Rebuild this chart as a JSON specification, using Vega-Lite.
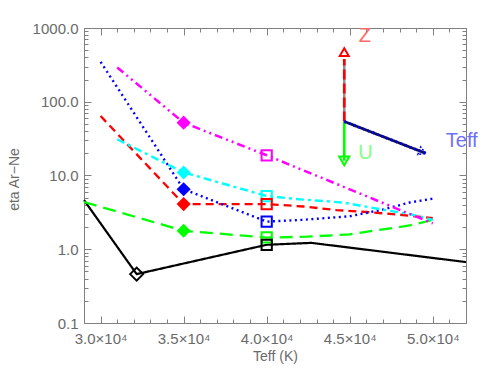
{
  "$schema": "https://vega.github.io/schema/vega-lite/v6.json",
  "width": 382,
  "height": 295,
  "autosize": {"type": "none"},
  "padding": {"left": 84, "top": 28, "right": 25, "bottom": 54},
  "background": "white",
  "datasets": {
    "lines": [
      {"s": "black", "x": 29000, "y": 4.64},
      {"s": "black", "x": 32170, "y": 0.46},
      {"s": "black", "x": 40000, "y": 1.15},
      {"s": "black", "x": 42700, "y": 1.22},
      {"s": "black", "x": 52000, "y": 0.67},
      {"s": "green", "x": 29000, "y": 4.37},
      {"s": "green", "x": 35000, "y": 1.78},
      {"s": "green", "x": 40000, "y": 1.44},
      {"s": "green", "x": 42400, "y": 1.48},
      {"s": "green", "x": 45000, "y": 1.59},
      {"s": "green", "x": 47000, "y": 1.86},
      {"s": "green", "x": 48600, "y": 2.1},
      {"s": "green", "x": 50000, "y": 2.5},
      {"s": "red", "x": 30000, "y": 64},
      {"s": "red", "x": 35000, "y": 4.1},
      {"s": "red", "x": 40000, "y": 4.1},
      {"s": "red", "x": 42200, "y": 3.8},
      {"s": "red", "x": 44200, "y": 3.4},
      {"s": "red", "x": 46000, "y": 3.2},
      {"s": "red", "x": 47800, "y": 2.97},
      {"s": "red", "x": 50000, "y": 2.65},
      {"s": "blue", "x": 30000, "y": 348},
      {"s": "blue", "x": 35000, "y": 6.5},
      {"s": "blue", "x": 40000, "y": 2.37},
      {"s": "blue", "x": 42100, "y": 2.5},
      {"s": "blue", "x": 45000, "y": 2.8},
      {"s": "blue", "x": 47000, "y": 3.45},
      {"s": "blue", "x": 48600, "y": 4.3},
      {"s": "blue", "x": 50000, "y": 4.85},
      {"s": "cyan", "x": 31000, "y": 31},
      {"s": "cyan", "x": 35000, "y": 11},
      {"s": "cyan", "x": 40000, "y": 5.27},
      {"s": "cyan", "x": 42000, "y": 4.75},
      {"s": "cyan", "x": 44600, "y": 4.3},
      {"s": "cyan", "x": 46800, "y": 3.5},
      {"s": "cyan", "x": 48600, "y": 3.0},
      {"s": "cyan", "x": 50000, "y": 2.5},
      {"s": "magenta", "x": 31000, "y": 292},
      {"s": "magenta", "x": 35000, "y": 52},
      {"s": "magenta", "x": 40000, "y": 18.8},
      {"s": "magenta", "x": 50000, "y": 2.24},
      {"s": "zcore", "x": 44670, "y": 54},
      {"s": "zcore", "x": 44670, "y": 380},
      {"s": "zdash", "x": 44670, "y": 54},
      {"s": "zdash", "x": 44670, "y": 380},
      {"s": "u", "x": 44670, "y": 54},
      {"s": "u", "x": 44670, "y": 15.8},
      {"s": "tcore", "x": 44670, "y": 54},
      {"s": "tcore", "x": 49574, "y": 20},
      {"s": "tdot", "x": 44670, "y": 54},
      {"s": "tdot", "x": 49574, "y": 20}
    ],
    "marks": [
      {"s": "magenta", "x": 35000, "y": 52, "kind": "fd"},
      {"s": "cyan", "x": 35000, "y": 11, "kind": "fd"},
      {"s": "blue", "x": 35000, "y": 6.5, "kind": "fd"},
      {"s": "red", "x": 35000, "y": 4.1, "kind": "fd"},
      {"s": "green", "x": 35000, "y": 1.78, "kind": "fd"},
      {"s": "magenta", "x": 40000, "y": 18.8, "kind": "os"},
      {"s": "cyan", "x": 40000, "y": 5.27, "kind": "os"},
      {"s": "red", "x": 40000, "y": 4.1, "kind": "os"},
      {"s": "blue", "x": 40000, "y": 2.37, "kind": "os"},
      {"s": "green", "x": 40000, "y": 1.45, "kind": "os"},
      {"s": "black", "x": 40000, "y": 1.15, "kind": "os"},
      {"s": "black", "x": 32170, "y": 0.46, "kind": "od"}
    ],
    "heads": [
      {"s": "Z", "x": 44670, "y": 470},
      {"s": "U", "x": 44670, "y": 15.8},
      {"s": "T", "x": 49381, "y": 20.8}
    ],
    "labels": [
      {"t": "Z", "x": 45917, "y": 791},
      {"t": "U", "x": 45950, "y": 20.5},
      {"t": "Teff", "x": 51741, "y": 29.5}
    ]
  },
  "resolve": {
    "scale": {"x": "shared", "y": "shared"},
    "axis": {"x": "independent", "y": "independent"}
  },
  "layer": [
    {
      "data": {"name": "lines"},
      "mark": {"type": "line", "strokeCap": "butt"},
      "encoding": {
        "x": {
          "field": "x", "type": "quantitative",
          "scale": {"type": "linear", "domain": [29000, 52000], "nice": false, "zero": false},
          "axis": {
            "orient": "bottom",
            "values": [30000, 35000, 40000, 45000, 50000],
            "labelExpr": "format(datum.value/10000,'.1f') + '×10⁴'",
            "tickSize": -7,
            "labelPadding": 15,
            "labelFlush": false,
            "labelOverlap": false,
            "domain": true,
            "title": "Teff (K)",
            "titleX": 191,
            "titleY": 26,
            "titleBaseline": "top",
            "titleAlign": "center"
          }
        },
        "y": {
          "field": "y", "type": "quantitative",
          "scale": {"type": "log", "domain": [0.1, 1000], "nice": false},
          "axis": {
            "orient": "left",
            "values": [0.1, 1, 10, 100, 1000],
            "format": ".1f",
            "tickSize": -7,
            "labelPadding": 13,
            "labelFlush": false,
            "labelOverlap": false,
            "domain": true,
            "title": "eta  Ar−Ne",
            "titleX": -70,
            "titleY": 151,
            "titleAngle": -90,
            "titleBaseline": "middle",
            "titleAlign": "center"
          }
        },
        "color": {
          "field": "s", "type": "nominal", "legend": null,
          "scale": {
            "domain": ["black", "green", "red", "blue", "cyan", "magenta", "zcore", "zdash", "u", "tcore", "tdot"],
            "range": ["#000000", "#00ff00", "#ff0000", "#0000ff", "#00ffff", "#ff00ff", "#909090", "#ff0000", "#00ff00", "#101040", "#0000ff"]
          }
        },
        "strokeDash": {
          "field": "s", "type": "nominal", "legend": null,
          "scale": {
            "domain": ["black", "green", "red", "blue", "cyan", "magenta", "zcore", "zdash", "u", "tcore", "tdot"],
            "range": [[1, 0], [13, 7], [8, 5], [2, 3.5], [8, 4, 3, 4], [8, 4, 2, 4, 2, 4], [1, 0], [10, 4], [1, 0], [1, 0], [2, 3]]
          }
        },
        "strokeWidth": {
          "field": "s", "type": "ordinal", "legend": null,
          "scale": {
            "domain": ["black", "green", "red", "blue", "cyan", "magenta", "zcore", "zdash", "u", "tcore", "tdot"],
            "range": [2.2, 2.8, 2.8, 2.8, 2.8, 2.8, 1, 2.8, 2.5, 1, 2.5]
          }
        }
      }
    },
    {
      "data": {"name": "marks"},
      "mark": {"type": "point", "opacity": 0},
      "encoding": {
        "x": {
          "field": "x", "type": "quantitative",
          "scale": {"type": "linear", "domain": [29000, 52000], "nice": false, "zero": false},
          "axis": {
            "orient": "bottom",
            "values": [29000, 31000, 32000, 33000, 34000, 36000, 37000, 38000, 39000, 41000, 42000, 43000, 44000, 46000, 47000, 48000, 49000, 51000, 52000],
            "tickSize": -4, "labels": false, "domain": false, "title": null
          }
        },
        "y": {
          "field": "y", "type": "quantitative",
          "scale": {"type": "log", "domain": [0.1, 1000], "nice": false},
          "axis": {
            "orient": "left",
            "values": [0.2, 0.3, 0.4, 0.5, 0.6, 0.7, 0.8, 0.9, 2, 3, 4, 5, 6, 7, 8, 9, 20, 30, 40, 50, 60, 70, 80, 90, 200, 300, 400, 500, 600, 700, 800, 900],
            "tickSize": -4, "labels": false, "domain": false, "title": null
          }
        }
      }
    },
    {
      "data": {"name": "marks"},
      "mark": {"type": "point", "opacity": 0},
      "encoding": {
        "x": {
          "field": "x", "type": "quantitative",
          "scale": {"type": "linear", "domain": [29000, 52000], "nice": false, "zero": false},
          "axis": {
            "orient": "top",
            "values": [30000, 35000, 40000, 45000, 50000],
            "tickSize": -7, "labels": false, "domain": true, "title": null
          }
        },
        "y": {
          "field": "y", "type": "quantitative",
          "scale": {"type": "log", "domain": [0.1, 1000], "nice": false},
          "axis": {
            "orient": "right",
            "values": [0.1, 1, 10, 100, 1000],
            "tickSize": -7, "labels": false, "domain": true, "title": null
          }
        }
      }
    },
    {
      "data": {"name": "marks"},
      "mark": {"type": "point", "opacity": 0},
      "encoding": {
        "x": {
          "field": "x", "type": "quantitative",
          "scale": {"type": "linear", "domain": [29000, 52000], "nice": false, "zero": false},
          "axis": {
            "orient": "top",
            "values": [29000, 31000, 32000, 33000, 34000, 36000, 37000, 38000, 39000, 41000, 42000, 43000, 44000, 46000, 47000, 48000, 49000, 51000, 52000],
            "tickSize": -4, "labels": false, "domain": false, "title": null
          }
        },
        "y": {
          "field": "y", "type": "quantitative",
          "scale": {"type": "log", "domain": [0.1, 1000], "nice": false},
          "axis": {
            "orient": "right",
            "values": [0.2, 0.3, 0.4, 0.5, 0.6, 0.7, 0.8, 0.9, 2, 3, 4, 5, 6, 7, 8, 9, 20, 30, 40, 50, 60, 70, 80, 90, 200, 300, 400, 500, 600, 700, 800, 900],
            "tickSize": -4, "labels": false, "domain": false, "title": null
          }
        }
      }
    },
    {
      "data": {"name": "marks"},
      "transform": [{"filter": "datum.kind === 'fd'"}],
      "mark": {"type": "point", "shape": "diamond", "filled": true, "size": 200, "opacity": 1},
      "encoding": {
        "x": {"field": "x", "type": "quantitative", "scale": {"type": "linear", "domain": [29000, 52000], "nice": false, "zero": false}, "axis": null},
        "y": {"field": "y", "type": "quantitative", "scale": {"type": "log", "domain": [0.1, 1000], "nice": false}, "axis": null},
        "color": {
          "field": "s", "type": "nominal", "legend": null,
          "scale": {
            "domain": ["black", "green", "red", "blue", "cyan", "magenta", "zcore", "zdash", "u", "tcore", "tdot"],
            "range": ["#000000", "#00ff00", "#ff0000", "#0000ff", "#00ffff", "#ff00ff", "#909090", "#ff0000", "#00ff00", "#101040", "#0000ff"]
          }
        }
      }
    },
    {
      "data": {"name": "marks"},
      "transform": [{"filter": "datum.kind !== 'fd'"}],
      "mark": {"type": "point", "filled": false, "strokeWidth": 2, "opacity": 1},
      "encoding": {
        "x": {"field": "x", "type": "quantitative", "scale": {"type": "linear", "domain": [29000, 52000], "nice": false, "zero": false}, "axis": null},
        "y": {"field": "y", "type": "quantitative", "scale": {"type": "log", "domain": [0.1, 1000], "nice": false}, "axis": null},
        "shape": {"field": "kind", "type": "nominal", "legend": null, "scale": {"domain": ["os", "od"], "range": ["square", "diamond"]}},
        "size": {"field": "kind", "type": "ordinal", "legend": null, "scale": {"domain": ["os", "od"], "range": [105, 170]}},
        "color": {
          "field": "s", "type": "nominal", "legend": null,
          "scale": {
            "domain": ["black", "green", "red", "blue", "cyan", "magenta", "zcore", "zdash", "u", "tcore", "tdot"],
            "range": ["#000000", "#00ff00", "#ff0000", "#0000ff", "#00ffff", "#ff00ff", "#909090", "#ff0000", "#00ff00", "#101040", "#0000ff"]
          }
        }
      }
    },
    {
      "data": {"name": "heads"},
      "transform": [{"filter": "datum.s === 'Z'"}],
      "mark": {"type": "point", "shape": "triangle-up", "filled": false, "size": 80, "strokeWidth": 2, "color": "#ff0000", "opacity": 1},
      "encoding": {
        "x": {"field": "x", "type": "quantitative", "scale": {"type": "linear", "domain": [29000, 52000], "nice": false, "zero": false}, "axis": null},
        "y": {"field": "y", "type": "quantitative", "scale": {"type": "log", "domain": [0.1, 1000], "nice": false}, "axis": null}
      }
    },
    {
      "data": {"name": "heads"},
      "transform": [{"filter": "datum.s === 'U'"}],
      "mark": {"type": "point", "shape": "triangle-down", "filled": false, "size": 100, "strokeWidth": 2, "color": "#00ff00", "opacity": 1},
      "encoding": {
        "x": {"field": "x", "type": "quantitative", "scale": {"type": "linear", "domain": [29000, 52000], "nice": false, "zero": false}, "axis": null},
        "y": {"field": "y", "type": "quantitative", "scale": {"type": "log", "domain": [0.1, 1000], "nice": false}, "axis": null}
      }
    },
    {
      "data": {"name": "heads"},
      "transform": [{"filter": "datum.s === 'T'"}],
      "mark": {"type": "point", "shape": "triangle-right", "angle": 21, "filled": false, "size": 64, "strokeWidth": 1.5, "strokeDash": [2, 1.5], "color": "#0000dd", "opacity": 1},
      "encoding": {
        "x": {"field": "x", "type": "quantitative", "scale": {"type": "linear", "domain": [29000, 52000], "nice": false, "zero": false}, "axis": null},
        "y": {"field": "y", "type": "quantitative", "scale": {"type": "log", "domain": [0.1, 1000], "nice": false}, "axis": null}
      }
    },
    {
      "data": {"name": "labels"},
      "transform": [{"filter": "datum.t === 'Z'"}],
      "mark": {"type": "text", "font": "Liberation Sans", "fontSize": 20, "align": "center", "baseline": "middle", "color": "#ff6a6a"},
      "encoding": {
        "x": {"field": "x", "type": "quantitative", "scale": {"type": "linear", "domain": [29000, 52000], "nice": false, "zero": false}, "axis": null},
        "y": {"field": "y", "type": "quantitative", "scale": {"type": "log", "domain": [0.1, 1000], "nice": false}, "axis": null},
        "text": {"field": "t"}
      }
    },
    {
      "data": {"name": "labels"},
      "transform": [{"filter": "datum.t === 'U'"}],
      "mark": {"type": "text", "font": "Liberation Sans", "fontSize": 20, "align": "center", "baseline": "middle", "color": "#80ff80"},
      "encoding": {
        "x": {"field": "x", "type": "quantitative", "scale": {"type": "linear", "domain": [29000, 52000], "nice": false, "zero": false}, "axis": null},
        "y": {"field": "y", "type": "quantitative", "scale": {"type": "log", "domain": [0.1, 1000], "nice": false}, "axis": null},
        "text": {"field": "t"}
      }
    },
    {
      "data": {"name": "labels"},
      "transform": [{"filter": "datum.t === 'Teff'"}],
      "mark": {"type": "text", "font": "Liberation Sans", "fontSize": 20, "align": "center", "baseline": "middle", "color": "#7070ff"},
      "encoding": {
        "x": {"field": "x", "type": "quantitative", "scale": {"type": "linear", "domain": [29000, 52000], "nice": false, "zero": false}, "axis": null},
        "y": {"field": "y", "type": "quantitative", "scale": {"type": "log", "domain": [0.1, 1000], "nice": false}, "axis": null},
        "text": {"field": "t"}
      }
    }
  ],
  "config": {
    "font": "Liberation Sans",
    "view": {"stroke": null},
    "axis": {
      "domainColor": "#808080",
      "domainWidth": 1,
      "tickColor": "#808080",
      "tickWidth": 1,
      "grid": false,
      "labelColor": "#6a6a6a",
      "labelFont": "Liberation Sans",
      "labelFontSize": 15,
      "titleColor": "#6a6a6a",
      "titleFont": "Liberation Sans",
      "titleFontSize": 14,
      "titleFontWeight": "normal"
    }
  }
}
